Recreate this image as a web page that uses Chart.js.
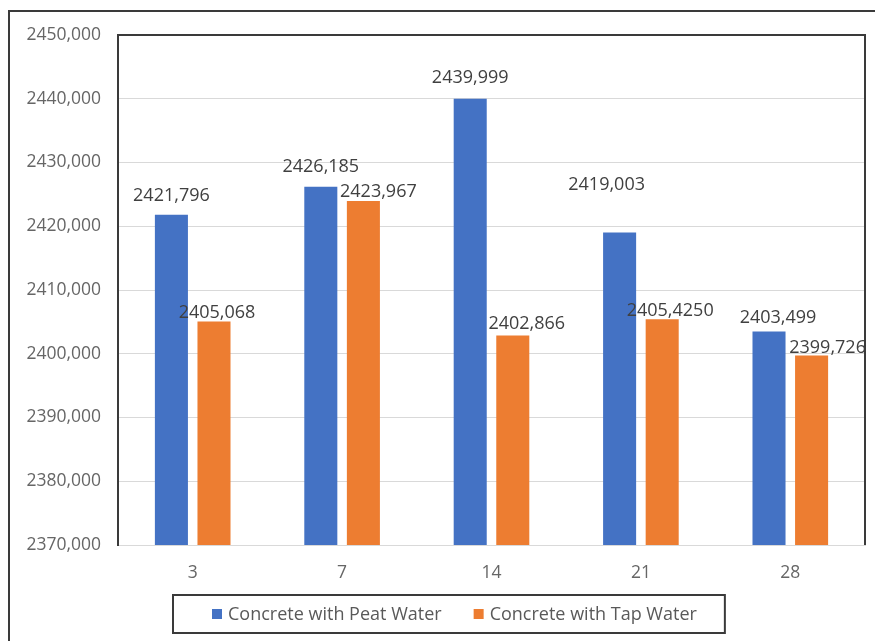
<!DOCTYPE html>
<html>
<head>
<meta charset="utf-8">
<script src="https://cdn.jsdelivr.net/npm/chart.js@4.4.0/dist/chart.umd.min.js"></script>
<style>
  html, body { margin: 0; padding: 0; background: #fff; }
  #wrap { width: 875px; height: 641px; }
</style>
</head>
<body>
<div id="wrap"><canvas id="densityChart" width="875" height="641"></canvas></div>
<script>
// values
const days = ['3', '7', '14', '21', '28'];
const peatWater = [2421.796, 2426.185, 2439.999, 2419.003, 2403.499];
const tapWater = [2405.068, 2423.967, 2402.866, 2405.425, 2399.726];
const peatLabels = ['2421,796', '2426,185', '2439,999', '2419,003', '2403,499'];
const tapLabels = ['2405,068', '2423,967', '2402,866', '2405,4250', '2399,726'];
const yMin = 2370;
const yMax = 2450;
const yStep = 10;

const FONT = "'Open Sans', sans-serif";
const BLUE = '#4472C4';
const ORANGE = '#ED7D31';
const LINE = '#3a3a3a';

// label nudges [dx, gap above bar top], like the hand-moved labels in the original
const labelShift = [
    [[0, 19], [0, 20], [0, 21], [-13, 48], [9, 14]],
    [[3, 9], [15, 9], [14, 12], [8, 8], [16, 8]]
];
const pointLabels = [peatLabels, tapLabels];

const framePlugin = {
    id: 'frame',
    afterDraw(chart) {
        const ctx = chart.ctx;
        const a = chart.chartArea;
        ctx.save();
        ctx.strokeStyle = LINE;
        ctx.lineWidth = 2;
        // outer frame (top + left only, the rest is cut off)
        ctx.beginPath();
        ctx.moveTo(9, chart.height);
        ctx.lineTo(9, 11);
        ctx.lineTo(chart.width, 11);
        ctx.stroke();
        // plot top + right
        ctx.beginPath();
        ctx.moveTo(a.left, a.top);
        ctx.lineTo(a.right, a.top);
        ctx.lineTo(a.right, a.bottom);
        ctx.stroke();
        ctx.restore();
    }
};

const valueLabelPlugin = {
    id: 'valueLabels',
    afterDatasetsDraw(chart) {
        const ctx = chart.ctx;
        const a = chart.chartArea;
        ctx.save();
        ctx.beginPath();
        ctx.rect(a.left, a.top - 40, a.right - a.left - 1, a.bottom - a.top + 40);
        ctx.clip();
        ctx.font = `18px ${FONT}`;
        ctx.fillStyle = '#404040';
        ctx.textAlign = 'center';
        ctx.textBaseline = 'middle';
        chart.data.datasets.forEach((ds, di) => {
            chart.getDatasetMeta(di).data.forEach((bar, i) => {
                const [dx, dy] = labelShift[di][i];
                ctx.fillText(pointLabels[di][i], bar.x + dx, bar.y - dy);
            });
        });
        ctx.restore();
    }
};

const legendBoxPlugin = {
    id: 'legendBox',
    afterDraw(chart) {
        const ctx = chart.ctx;
        const left = 173, top = 595, bottom = 633;
        const midY = (top + bottom) / 2;
        ctx.save();
        ctx.font = `18px ${FONT}`;
        ctx.textBaseline = 'middle';
        ctx.textAlign = 'left';
        let x = left + 39;
        chart.data.datasets.forEach((ds, i) => {
            if (i > 0) x += 32;
            ctx.fillStyle = ds.backgroundColor;
            ctx.fillRect(x, midY - 5, 10, 10);
            x += 16;
            ctx.fillStyle = '#595959';
            ctx.fillText(ds.label, x, midY + 1);
            x += ctx.measureText(ds.label).width;
        });
        ctx.strokeStyle = LINE;
        ctx.lineWidth = 2;
        ctx.strokeRect(left, top, x + 28 - left, bottom - top);
        ctx.restore();
    }
};

const ctx = document.getElementById('densityChart').getContext('2d');
new Chart(ctx, {
    type: 'bar',
    data: {
        labels: days,
        datasets: [
            {
                label: 'Concrete with Peat Water',
                data: peatWater,
                backgroundColor: BLUE,
                categoryPercentage: 0.57,
                barPercentage: 0.776
            },
            {
                label: 'Concrete with Tap Water',
                data: tapWater,
                backgroundColor: ORANGE,
                categoryPercentage: 0.57,
                barPercentage: 0.776
            }
        ]
    },
    options: {
        responsive: false,
        animation: false,
        layout: {
            padding: { left: 0, right: 10, top: 35, bottom: 0 }
        },
        scales: {
            x: {
                grid: { display: false },
                border: { display: true, color: '#d9d9d9', width: 1 },
                ticks: {
                    color: '#666666',
                    font: { family: FONT, size: 17.5 },
                    padding: 10
                },
                afterFit(scale) { scale.height = 96; }
            },
            y: {
                min: yMin,
                max: yMax,
                grid: { color: '#d9d9d9', drawTicks: false },
                border: { display: true, color: LINE, width: 2 },
                ticks: {
                    stepSize: yStep,
                    color: '#666666',
                    font: { family: FONT, size: 17.5 },
                    padding: 17,
                    callback: v => v.toFixed(3).replace('.', ',')
                },
                afterFit(scale) { scale.width = 118; }
            }
        },
        plugins: {
            legend: { display: false },
            tooltip: { enabled: false }
        }
    },
    plugins: [framePlugin, valueLabelPlugin, legendBoxPlugin]
});
</script>
</body>
</html>
